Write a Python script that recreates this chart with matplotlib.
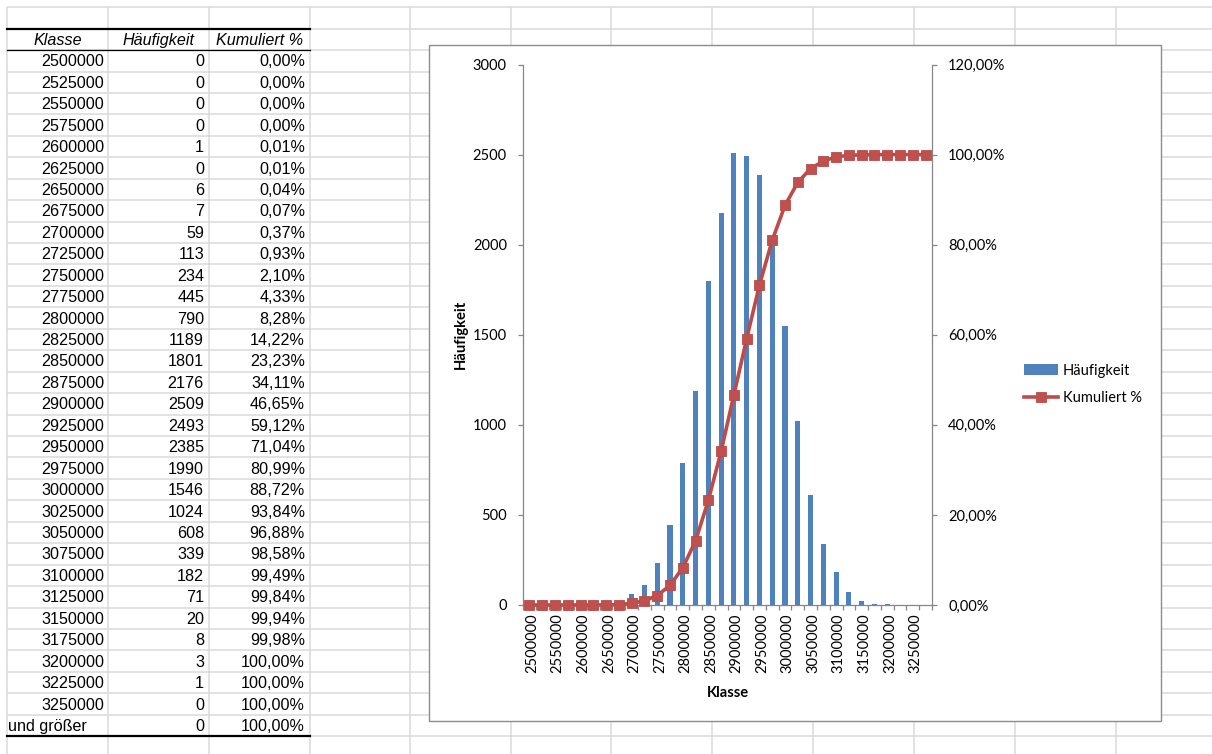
import numpy as np
import matplotlib
matplotlib.use('Agg')
import matplotlib.pyplot as plt
import matplotlib.transforms as mtransforms
from matplotlib.patches import Rectangle, Patch
from matplotlib.lines import Line2D

plt.rcParams['font.family'] = ['Lato', 'DejaVu Sans']
plt.rcParams['font.size'] = 10.5

# Frequency table: class upper bounds, counts, cumulative share in percent
klassen = ['2500000', '2525000', '2550000', '2575000', '2600000', '2625000',
           '2650000', '2675000', '2700000', '2725000', '2750000', '2775000',
           '2800000', '2825000', '2850000', '2875000', '2900000', '2925000',
           '2950000', '2975000', '3000000', '3025000', '3050000', '3075000',
           '3100000', '3125000', '3150000', '3175000', '3200000', '3225000',
           '3250000', 'und größer']
haeufigkeit = [0, 0, 0, 0, 1, 0, 6, 7, 59, 113, 234, 445, 790, 1189, 1801,
               2176, 2509, 2493, 2385, 1990, 1546, 1024, 608, 339, 182, 71,
               20, 8, 3, 1, 0, 0]
kumuliert = [0.00, 0.00, 0.00, 0.00, 0.01, 0.01, 0.04, 0.07, 0.37, 0.93,
             2.10, 4.33, 8.28, 14.22, 23.23, 34.11, 46.65, 59.12, 71.04,
             80.99, 88.72, 93.84, 96.88, 98.58, 99.49, 99.84, 99.94, 99.98,
             100.00, 100.00, 100.00, 100.00]
header = ['Klasse', 'Häufigkeit', 'Kumuliert %']


def pct(v):
    return ('%.2f%%' % v).replace('.', ',')


W, H = 1212, 754
fig = plt.figure(figsize=(W / 100, H / 100), dpi=100)

# --- worksheet background (pixel coordinates) ---
sheet = fig.add_axes([0, 0, 1, 1])
sheet.set_xlim(0, W)
sheet.set_ylim(H, 0)
sheet.axis('off')

grid = '#dadada'
col_x = [7, 108, 209, 310, 410, 511, 611, 712, 813, 914, 1015, 1116]
row_y = [7.2 + 21.44 * k for k in range(36)]

for x in col_x:
    sheet.plot([x, x], [row_y[0], H], color=grid, lw=1.1, solid_capstyle='butt')
for y in row_y:
    sheet.plot([col_x[0], W], [y, y], color=grid, lw=1.1, solid_capstyle='butt')

# table borders
sheet.plot([col_x[0], col_x[3]], [row_y[1], row_y[1]], color='black', lw=1.6)
sheet.plot([col_x[0], col_x[3]], [row_y[2], row_y[2]], color='black', lw=0.9)
sheet.plot([col_x[0], col_x[3]], [row_y[34], row_y[34]], color='black', lw=1.6)

tab = dict(family='Liberation Sans', fontsize=11.6, color='black')
hy = (row_y[1] + row_y[2]) / 2 + 1
for i, name in enumerate(header):
    cx = (col_x[i] + col_x[i + 1]) / 2
    sheet.text(cx, hy, name, ha='center', va='center', style='italic', **tab)

for i in range(len(klassen)):
    yc = (row_y[i + 2] + row_y[i + 3]) / 2 + 1
    if klassen[i].isdigit():
        sheet.text(104.5, yc, klassen[i], ha='right', va='center', **tab)
    else:
        sheet.text(8, yc, klassen[i], ha='left', va='center', **tab)
    sheet.text(204, yc, str(haeufigkeit[i]), ha='right', va='center', **tab)
    sheet.text(305, yc, pct(kumuliert[i]), ha='right', va='center', **tab)

# chart area
sheet.add_patch(Rectangle((428.5, 45), 732, 676, facecolor='white',
                          edgecolor='#8c8c8c', lw=1.0, zorder=5))

# --- histogram with cumulative line ---
l, r, t, b = 523, 932, 64.5, 605
ax = fig.add_axes([l / W, 1 - b / H, (r - l) / W, (b - t) / H])
ax.patch.set_visible(False)
axis_gray = '#868686'

x = np.arange(len(klassen))
ax.bar(x, haeufigkeit, width=0.4, color='#4F81BD', zorder=2)
ax.set_xlim(-0.5, len(klassen) - 0.5)
ax.set_ylim(0, 3000)
ax.set_yticks(range(0, 3001, 500))
ax.set_xticks(x[::2])
ax.set_xticklabels(klassen[::2], rotation=90)
ax.set_xticks(np.arange(-0.5, len(klassen)), minor=True)
ax.tick_params(axis='x', which='major', length=0, pad=6)
ax.tick_params(axis='x', which='minor', length=3.6, color=axis_gray, width=0.9)
ax.tick_params(axis='y', length=3.6, color=axis_gray, width=0.9, pad=8)
# nudge the rotated class labels a little to the right
shift = mtransforms.ScaledTranslation(2 / 72, 0, fig.dpi_scale_trans)
for lab in ax.get_xticklabels():
    lab.set_transform(lab.get_transform() + shift)
for s in ['top', 'right']:
    ax.spines[s].set_visible(False)
for s in ['left', 'bottom']:
    ax.spines[s].set_color(axis_gray)
    ax.spines[s].set_linewidth(0.9)

ax.set_xlabel('Klasse', fontweight='bold', fontsize=10.6)
ax.xaxis.set_label_coords(0.5, (605 - 693) / (b - t))
ax.xaxis.label.set_va('center')
ax.set_ylabel('Häufigkeit', fontweight='bold', fontsize=10.6)
ax.yaxis.set_label_coords((461 - 523) / (r - l), 0.5)
ax.yaxis.label.set_va('center')

ax2 = ax.twinx()
ax2.set_ylim(0, 120)
ax2.set_yticks(range(0, 121, 20))
ax2.set_yticklabels([pct(v) for v in range(0, 121, 20)])
ax2.tick_params(axis='y', length=3.6, color=axis_gray, width=0.9, pad=8)
for s in ['top', 'left', 'bottom']:
    ax2.spines[s].set_visible(False)
ax2.spines['right'].set_color(axis_gray)
ax2.spines['right'].set_linewidth(0.9)

red = '#C0504D'
ax2.plot(x, kumuliert, color='#BE4B48', lw=2.6, marker='s', ms=7.8,
         mfc=red, mec='#B84A47', mew=0.6, clip_on=False, zorder=3)

handles = [Patch(facecolor='#4F81BD'),
           Line2D([], [], color='#BE4B48', lw=2.6, marker='s', ms=7.5,
                  mfc=red, mec='#B84A47', mew=0.6)]
ax2.legend(handles, ['Häufigkeit', 'Kumuliert %'], loc='center left',
           bbox_to_anchor=(1024 / W, 1 - 384.5 / H), bbox_transform=fig.transFigure,
           frameon=False, borderpad=0, borderaxespad=0, handlelength=2.3,
           handletextpad=0.35, labelspacing=0.95)

fig.savefig('out.png', dpi=100)
